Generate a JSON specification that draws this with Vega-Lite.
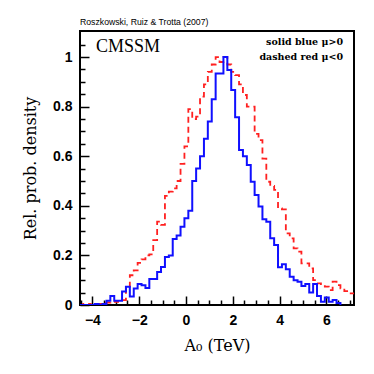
{
  "$schema": "https://vega.github.io/schema/vega-lite/v6.json",
  "width": 274,
  "height": 274,
  "autosize": {"type": "none"},
  "padding": {"left": 80, "top": 31, "right": 20, "bottom": 69},
  "background": "white",
  "title": {"text": "Roszkowski, Ruiz & Trotta (2007)", "anchor": "start", "frame": "group", "font": "Liberation Sans", "fontSize": 8.7, "fontWeight": "normal", "color": "black", "offset": 4},
  "config": {
    "view": {"stroke": "black", "strokeWidth": 2},
    "axis": {"grid": false, "domain": false, "labelOverlap": false, "tickColor": "black", "tickWidth": 1.5, "labelColor": "black", "labelFont": "Liberation Sans", "labelFontWeight": "bold", "labelFontSize": 14, "titleColor": "black", "titleFont": "DejaVu Serif", "titleFontWeight": "normal", "titleFontSize": 16}
  },
  "resolve": {"axis": {"x": "independent", "y": "independent"}},
  "datasets": {
    "hist": [
      {"A0": -4.567, "p": 0, "sign": "neg"}, {"A0": -4.4, "p": 0.004, "sign": "neg"}, {"A0": -4.233, "p": 0.004, "sign": "neg"}, {"A0": -4.067, "p": 0, "sign": "neg"}, {"A0": -3.9, "p": 0.004, "sign": "neg"}, {"A0": -3.733, "p": 0.004, "sign": "neg"}, {"A0": -3.567, "p": 0.008, "sign": "neg"}, {"A0": -3.4, "p": 0.01, "sign": "neg"}, {"A0": -3.233, "p": 0.013, "sign": "neg"}, {"A0": -3.067, "p": 0.013, "sign": "neg"}, {"A0": -2.9, "p": 0.017, "sign": "neg"}, {"A0": -2.733, "p": 0.02, "sign": "neg"}, {"A0": -2.567, "p": 0.067, "sign": "neg"}, {"A0": -2.4, "p": 0.12, "sign": "neg"}, {"A0": -2.233, "p": 0.14, "sign": "neg"}, {"A0": -2.067, "p": 0.17, "sign": "neg"}, {"A0": -1.9, "p": 0.184, "sign": "neg"}, {"A0": -1.733, "p": 0.2, "sign": "neg"}, {"A0": -1.567, "p": 0.204, "sign": "neg"}, {"A0": -1.4, "p": 0.262, "sign": "neg"}, {"A0": -1.233, "p": 0.336, "sign": "neg"}, {"A0": -1.067, "p": 0.323, "sign": "neg"}, {"A0": -0.9, "p": 0.44, "sign": "neg"}, {"A0": -0.733, "p": 0.457, "sign": "neg"}, {"A0": -0.567, "p": 0.47, "sign": "neg"}, {"A0": -0.4, "p": 0.5, "sign": "neg"}, {"A0": -0.233, "p": 0.569, "sign": "neg"}, {"A0": -0.067, "p": 0.64, "sign": "neg"}, {"A0": 0.1, "p": 0.79, "sign": "neg"}, {"A0": 0.267, "p": 0.75, "sign": "neg"}, {"A0": 0.433, "p": 0.76, "sign": "neg"}, {"A0": 0.6, "p": 0.84, "sign": "neg"}, {"A0": 0.767, "p": 0.89, "sign": "neg"}, {"A0": 0.933, "p": 0.94, "sign": "neg"}, {"A0": 1.1, "p": 0.97, "sign": "neg"}, {"A0": 1.267, "p": 1.0, "sign": "neg"}, {"A0": 1.433, "p": 0.98, "sign": "neg"}, {"A0": 1.6, "p": 1.0, "sign": "neg"}, {"A0": 1.767, "p": 0.97, "sign": "neg"}, {"A0": 1.933, "p": 0.94, "sign": "neg"}, {"A0": 2.1, "p": 0.927, "sign": "neg"}, {"A0": 2.267, "p": 0.89, "sign": "neg"}, {"A0": 2.433, "p": 0.847, "sign": "neg"}, {"A0": 2.6, "p": 0.8, "sign": "neg"}, {"A0": 2.767, "p": 0.8, "sign": "neg"}, {"A0": 2.933, "p": 0.69, "sign": "neg"}, {"A0": 3.1, "p": 0.665, "sign": "neg"}, {"A0": 3.267, "p": 0.59, "sign": "neg"}, {"A0": 3.433, "p": 0.497, "sign": "neg"}, {"A0": 3.6, "p": 0.48, "sign": "neg"}, {"A0": 3.767, "p": 0.464, "sign": "neg"}, {"A0": 3.933, "p": 0.39, "sign": "neg"}, {"A0": 4.1, "p": 0.386, "sign": "neg"}, {"A0": 4.267, "p": 0.289, "sign": "neg"}, {"A0": 4.433, "p": 0.269, "sign": "neg"}, {"A0": 4.6, "p": 0.228, "sign": "neg"}, {"A0": 4.767, "p": 0.215, "sign": "neg"}, {"A0": 4.933, "p": 0.168, "sign": "neg"}, {"A0": 5.1, "p": 0.168, "sign": "neg"}, {"A0": 5.267, "p": 0.148, "sign": "neg"}, {"A0": 5.433, "p": 0.1, "sign": "neg"}, {"A0": 5.6, "p": 0.087, "sign": "neg"}, {"A0": 5.767, "p": 0.08, "sign": "neg"}, {"A0": 5.933, "p": 0.074, "sign": "neg"}, {"A0": 6.1, "p": 0.06, "sign": "neg"}, {"A0": 6.267, "p": 0.094, "sign": "neg"}, {"A0": 6.433, "p": 0.08, "sign": "neg"}, {"A0": 6.6, "p": 0.067, "sign": "neg"}, {"A0": 6.767, "p": 0.056, "sign": "neg"}, {"A0": 6.933, "p": 0.047, "sign": "neg"}, {"A0": 7.1, "p": 0.047, "sign": "neg"}, {"A0": 7.267, "p": 0.047, "sign": "neg"},
      {"A0": -4.567, "p": 0, "sign": "pos"}, {"A0": -4.4, "p": 0, "sign": "pos"}, {"A0": -4.233, "p": 0, "sign": "pos"}, {"A0": -4.067, "p": 0, "sign": "pos"}, {"A0": -3.9, "p": 0.004, "sign": "pos"}, {"A0": -3.733, "p": 0, "sign": "pos"}, {"A0": -3.567, "p": 0.004, "sign": "pos"}, {"A0": -3.4, "p": 0.017, "sign": "pos"}, {"A0": -3.233, "p": 0.036, "sign": "pos"}, {"A0": -3.067, "p": 0.017, "sign": "pos"}, {"A0": -2.9, "p": 0.017, "sign": "pos"}, {"A0": -2.733, "p": 0.054, "sign": "pos"}, {"A0": -2.567, "p": 0.074, "sign": "pos"}, {"A0": -2.4, "p": 0.034, "sign": "pos"}, {"A0": -2.233, "p": 0.067, "sign": "pos"}, {"A0": -2.067, "p": 0.085, "sign": "pos"}, {"A0": -1.9, "p": 0.08, "sign": "pos"}, {"A0": -1.733, "p": 0.069, "sign": "pos"}, {"A0": -1.567, "p": 0.105, "sign": "pos"}, {"A0": -1.4, "p": 0.105, "sign": "pos"}, {"A0": -1.233, "p": 0.133, "sign": "pos"}, {"A0": -1.067, "p": 0.153, "sign": "pos"}, {"A0": -0.9, "p": 0.194, "sign": "pos"}, {"A0": -0.733, "p": 0.2, "sign": "pos"}, {"A0": -0.567, "p": 0.266, "sign": "pos"}, {"A0": -0.4, "p": 0.28, "sign": "pos"}, {"A0": -0.233, "p": 0.316, "sign": "pos"}, {"A0": -0.067, "p": 0.35, "sign": "pos"}, {"A0": 0.1, "p": 0.38, "sign": "pos"}, {"A0": 0.267, "p": 0.5, "sign": "pos"}, {"A0": 0.433, "p": 0.55, "sign": "pos"}, {"A0": 0.6, "p": 0.6, "sign": "pos"}, {"A0": 0.767, "p": 0.67, "sign": "pos"}, {"A0": 0.933, "p": 0.74, "sign": "pos"}, {"A0": 1.1, "p": 0.83, "sign": "pos"}, {"A0": 1.267, "p": 0.934, "sign": "pos"}, {"A0": 1.433, "p": 0.934, "sign": "pos"}, {"A0": 1.6, "p": 1.0, "sign": "pos"}, {"A0": 1.767, "p": 0.948, "sign": "pos"}, {"A0": 1.933, "p": 0.867, "sign": "pos"}, {"A0": 2.1, "p": 0.757, "sign": "pos"}, {"A0": 2.267, "p": 0.625, "sign": "pos"}, {"A0": 2.433, "p": 0.6, "sign": "pos"}, {"A0": 2.6, "p": 0.565, "sign": "pos"}, {"A0": 2.767, "p": 0.497, "sign": "pos"}, {"A0": 2.933, "p": 0.444, "sign": "pos"}, {"A0": 3.1, "p": 0.397, "sign": "pos"}, {"A0": 3.267, "p": 0.346, "sign": "pos"}, {"A0": 3.433, "p": 0.336, "sign": "pos"}, {"A0": 3.6, "p": 0.269, "sign": "pos"}, {"A0": 3.767, "p": 0.242, "sign": "pos"}, {"A0": 3.933, "p": 0.152, "sign": "pos"}, {"A0": 4.1, "p": 0.164, "sign": "pos"}, {"A0": 4.267, "p": 0.144, "sign": "pos"}, {"A0": 4.433, "p": 0.114, "sign": "pos"}, {"A0": 4.6, "p": 0.1, "sign": "pos"}, {"A0": 4.767, "p": 0.094, "sign": "pos"}, {"A0": 4.933, "p": 0.077, "sign": "pos"}, {"A0": 5.1, "p": 0.085, "sign": "pos"}, {"A0": 5.267, "p": 0.05, "sign": "pos"}, {"A0": 5.433, "p": 0.085, "sign": "pos"}, {"A0": 5.6, "p": 0.036, "sign": "pos"}, {"A0": 5.767, "p": 0.013, "sign": "pos"}, {"A0": 5.933, "p": 0.03, "sign": "pos"}, {"A0": 6.1, "p": 0.013, "sign": "pos"}, {"A0": 6.267, "p": 0.02, "sign": "pos"}, {"A0": 6.433, "p": 0.008, "sign": "pos"}, {"A0": 6.6, "p": 0, "sign": "pos"}
    ],
    "notes": [
      {"label": "CMSSM"}
    ],
    "legend1": [{"label": "solid blue μ>0"}],
    "legend2": [{"label": "dashed red μ<0"}]
  },
  "layer": [
    {
      "data": {"name": "hist"},
      "transform": [{"filter": "datum.sign == 'neg'"}],
      "mark": {"type": "line", "interpolate": "step-after", "clip": true, "color": "#ff2020", "strokeWidth": 1.8, "strokeDash": [6, 4]},
      "encoding": {
        "x": {"field": "A0", "type": "quantitative", "scale": {"domain": [-4.53, 7.18], "nice": false, "zero": false},
          "axis": {"orient": "bottom", "title": "A₀ (TeV)", "titlePadding": 10,
            "values": [-4, -2, 0, 2, 4, 6],
            "format": "~g",
            "tickSize": -9,
            "labelPadding": 17}},
        "y": {"field": "p", "type": "quantitative", "scale": {"domain": [0, 1.105], "nice": false},
          "axis": {"orient": "left", "title": "Rel. prob. density", "titlePadding": 14,
            "values": [0, 0.2, 0.4, 0.6, 0.8, 1],
            "format": "~g",
            "tickSize": -9,
            "labelPadding": 17}}
      }
    },
    {
      "data": {"name": "hist"},
      "transform": [{"filter": "datum.sign == 'pos'"}],
      "mark": {"type": "line", "interpolate": "step-after", "clip": true, "color": "#1010ff", "strokeWidth": 2},
      "encoding": {
        "x": {"field": "A0", "type": "quantitative",
          "axis": {"orient": "bottom", "title": null, "labels": false,
            "values": [-4.5, -3.5, -3, -2.5, -1.5, -1, -0.5, 0.5, 1, 1.5, 2.5, 3, 3.5, 4.5, 5, 5.5, 6.5, 7],
            "tickSize": -5}},
        "y": {"field": "p", "type": "quantitative",
          "axis": {"orient": "left", "title": null, "labels": false,
            "values": [0.05, 0.1, 0.15, 0.25, 0.3, 0.35, 0.45, 0.5, 0.55, 0.65, 0.7, 0.75, 0.85, 0.9, 0.95, 1.05],
            "tickSize": -5}}
      }
    },
    {
      "data": {"name": "notes"},
      "mark": {"type": "text", "align": "left", "baseline": "alphabetic", "font": "Liberation Serif", "fontSize": 18, "color": "black"},
      "encoding": {"x": {"datum": -3.85, "type": "quantitative", "axis": null}, "y": {"datum": 1.02, "type": "quantitative", "axis": null}, "text": {"field": "label"}}
    },
    {
      "data": {"name": "legend1"},
      "mark": {"type": "text", "align": "right", "baseline": "alphabetic", "font": "DejaVu Serif", "fontWeight": "bold", "fontSize": 9.5, "color": "black"},
      "encoding": {"x": {"datum": 6.71, "type": "quantitative", "axis": null}, "y": {"datum": 1.048, "type": "quantitative", "axis": null}, "text": {"field": "label"}}
    },
    {
      "data": {"name": "legend2"},
      "mark": {"type": "text", "align": "right", "baseline": "alphabetic", "font": "DejaVu Serif", "fontWeight": "bold", "fontSize": 9.5, "color": "black"},
      "encoding": {"x": {"datum": 6.71, "type": "quantitative", "axis": null}, "y": {"datum": 0.99, "type": "quantitative", "axis": null}, "text": {"field": "label"}}
    }
  ]
}
